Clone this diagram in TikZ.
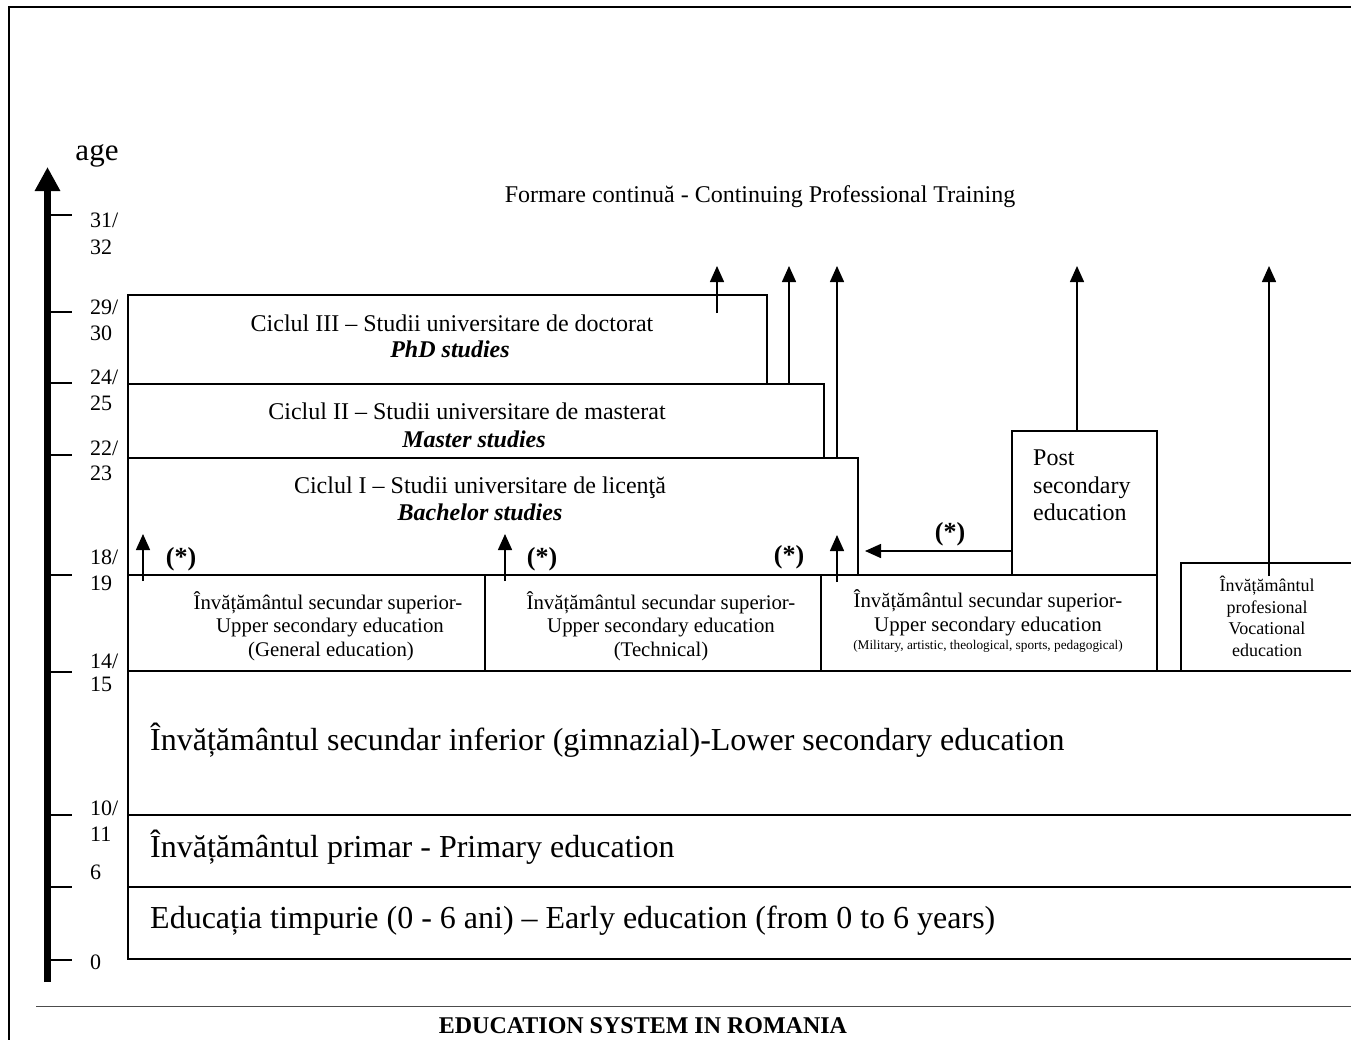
\documentclass[tikz,border=0pt]{standalone}
\usepackage{fontspec}
\setmainfont{Liberation Serif}
\usetikzlibrary{arrows.meta}
\newcommand{\fzbig}{\fontsize{32}{38}\selectfont}
\newcommand{\fzage}{\fontsize{31}{36}\selectfont}
\newcommand{\fznorm}{\fontsize{24}{28}\selectfont}
\newcommand{\fzsec}{\fontsize{20.8}{24}\selectfont}
\newcommand{\fzvoc}{\fontsize{18}{21}\selectfont}
\newcommand{\fztiny}{\fontsize{13.3}{16}\selectfont}
\newcommand{\fzax}{\fontsize{22}{26}\selectfont}
\newcommand{\fzstar}{\fontsize{26}{30}\selectfont}
\begin{document}
\begin{tikzpicture}[x=1pt,y=-1pt,
  boxline/.style={line width=1.5pt, line cap=rect},
  arr/.style={line width=1.5pt, -{Triangle[length=16pt,width=14pt]}},
  tick/.style={line width=1.5pt},
  tbig/.style={inner sep=0pt, font=\fzbig, text height=21pt, text depth=0pt},
  tnorm/.style={inner sep=0pt, font=\fznorm, text height=16pt, text depth=0pt},
  tsec/.style={inner sep=0pt, font=\fzsec, text height=14pt, text depth=0pt},
  tvoc/.style={inner sep=0pt, font=\fzvoc, text height=12pt, text depth=0pt},
  ttiny/.style={inner sep=0pt, font=\fztiny, text height=9pt, text depth=0pt},
  tax/.style={inner sep=0pt, anchor=west, font=\fzax, text height=15pt, text depth=0pt},
  tstar/.style={inner sep=0pt, font=\fzstar\bfseries, text height=17pt, text depth=0pt},
]
\useasboundingbox (0,0) rectangle (1351,1039);
\fill[white] (0,0) rectangle (1351,1039);

% outer frame (top and left)
\draw[line width=2.2pt] (9,1045) -- (9,7) -- (1360,7);
% separator
\draw[line width=1pt, black!70] (36,1006) -- (1360,1006);

% age axis
\coordinate (axisB) at (47.5,982);
\coordinate (axisT) at (47.5,167);
\draw[line width=7.5pt, -{Triangle[length=24pt,width=24pt]}] (axisB) -- (axisT);
\node[inner sep=0pt, font=\fzage, text height=21pt, text depth=0pt] (age) at (97,150) {age};
\foreach \yy in {215,312,383,455,575,672,815,887,960}
  \draw[tick] (51,\yy) -- (72,\yy);
\node[tax] (l31) at (90,220) {31/};
\node[tax] (l32) at (90,247) {32};
\node[tax] (l29) at (90,307) {29/};
\node[tax] (l30) at (90,333) {30};
\node[tax] (l24) at (90,377) {24/};
\node[tax] (l25) at (90,403) {25};
\node[tax] (l22) at (90,448) {22/};
\node[tax] (l23) at (90,473) {23};
\node[tax] (l18) at (90,557) {18/};
\node[tax] (l19) at (90,583) {19};
\node[tax] (l14) at (90,661) {14/};
\node[tax] (l15) at (90,684) {15};
\node[tax] (l10) at (90,808) {10/};
\node[tax] (l11) at (90,834) {11};
\node[tax] (l6) at (90,872) {6};
\node[tax] (l0) at (90,962) {0};

% boxes
\draw[boxline] (128,959) -- (128,295) -- (767,295) -- (767,384);
\draw[boxline] (128,384) -- (824,384) -- (824,458);
\draw[boxline] (128,458) -- (858,458) -- (858,575);
\draw[boxline] (128,575) -- (1157,575) -- (1157,671);
\draw[boxline] (485,575) -- (485,671);
\draw[boxline] (821,575) -- (821,671);
\draw[boxline] (1012,575) -- (1012,431) -- (1157,431) -- (1157,575);
\draw[boxline] (1181,671) -- (1181,563) -- (1360,563);
\draw[boxline] (128,671) -- (1360,671);
\draw[boxline] (128,815) -- (1360,815);
\draw[boxline] (128,887) -- (1360,887);
\draw[boxline] (128,959) -- (1360,959);

% texts
\node[tnorm] (cpt) at (760,194) {Formare continuă - Continuing Professional Training};
\node[tnorm] (phd1) at (452,323) {Ciclul III – Studii universitare de doctorat};
\node[tnorm, font=\fznorm\bfseries\itshape] (phd2) at (450,349) {PhD studies};
\node[tnorm] (ms1) at (467,411) {Ciclul II – Studii universitare de masterat};
\node[tnorm, font=\fznorm\bfseries\itshape] (ms2) at (474,439) {Master studies};
\node[tnorm] (ba1) at (480,485) {Ciclul I – Studii universitare de licenţă};
\node[tnorm, font=\fznorm\bfseries\itshape] (ba2) at (480,512) {Bachelor studies};

\node[tsec] (g1) at (328,602) {Învățământul secundar superior-};
\node[tsec] (g2) at (330,625) {Upper secondary education};
\node[tsec] (g3) at (331,649) {(General education)};
\node[tsec] (t1) at (661,602) {Învățământul secundar superior-};
\node[tsec] (t2) at (661,625) {Upper secondary education};
\node[tsec] (t3) at (661,649) {(Technical)};
\node[tsec] (m1) at (988,600) {Învățământul secundar superior-};
\node[tsec] (m2) at (988,624) {Upper secondary education};
\node[ttiny] (m3) at (988,645) {(Military, artistic, theological, sports, pedagogical)};

\node[tnorm, anchor=west] (ps1) at (1033,457) {Post};
\node[tnorm, anchor=west] (ps2) at (1033,485) {secondary};
\node[tnorm, anchor=west] (ps3) at (1033,512) {education};

\node[tvoc] (v1) at (1267,585) {Învățământul};
\node[tvoc] (v2) at (1267,607) {profesional};
\node[tvoc] (v3) at (1267,628) {Vocational};
\node[tvoc] (v4) at (1267,650) {education};

\node[tbig, anchor=west] (low) at (150,740) {Învățământul secundar inferior (gimnazial)-Lower secondary education};
\node[tbig, anchor=west] (prim) at (150,847) {Învățământul primar - Primary education};
\node[tbig, anchor=west] (early) at (150,918) {Educația timpurie (0 - 6 ani) – Early education (from 0 to 6 years)};

\node[tnorm, font=\fznorm\bfseries] (title) at (643,1025) {EDUCATION SYSTEM IN ROMANIA};

\node[tstar] (st1) at (181,557) {(*)};
\node[tstar] (st2) at (542,557) {(*)};
\node[tstar] (st3) at (789,555) {(*)};
\node[tstar] (st4) at (950,532) {(*)};

% arrows
\coordinate (a1s) at (717,313); \coordinate (a1e) at (717,266);
\coordinate (a2s) at (789,384); \coordinate (a2e) at (789,266);
\coordinate (a3s) at (837,458); \coordinate (a3e) at (837,266);
\coordinate (a4s) at (1077,431); \coordinate (a4e) at (1077,266);
\coordinate (a5s) at (1269,576); \coordinate (a5e) at (1269,266);
\coordinate (s1s) at (143,581); \coordinate (s1e) at (143,534);
\coordinate (s2s) at (505,581); \coordinate (s2e) at (505,534);
\coordinate (s3s) at (837,582); \coordinate (s3e) at (837,535);
\coordinate (h1s) at (1012,551); \coordinate (h1e) at (865,551);
\draw[arr] (a1s) -- (a1e);
\draw[arr] (a2s) -- (a2e);
\draw[arr] (a3s) -- (a3e);
\draw[arr] (a4s) -- (a4e);
\draw[arr] (a5s) -- (a5e);
\draw[arr] (s1s) -- (s1e);
\draw[arr] (s2s) -- (s2e);
\draw[arr] (s3s) -- (s3e);
\draw[arr] (h1s) -- (h1e);
\end{tikzpicture}
\end{document}
